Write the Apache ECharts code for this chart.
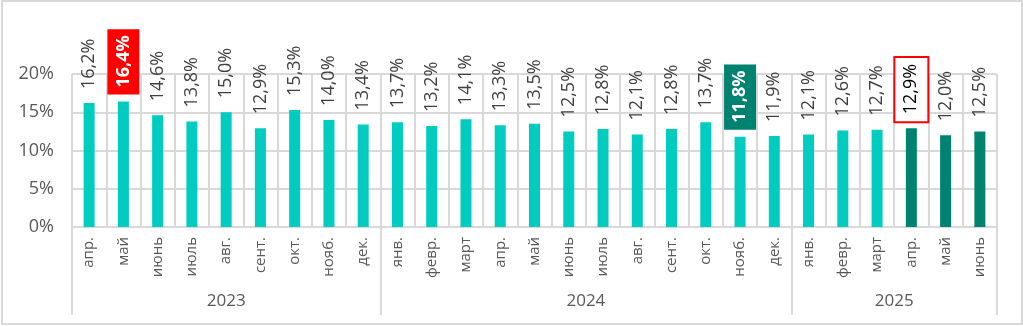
<!DOCTYPE html>
<html>
<head>
<meta charset="utf-8">
<script src="https://cdn.jsdelivr.net/npm/echarts@6/dist/echarts.min.js"></script>
<style>
  html, body { margin: 0; padding: 0; background: #fff; }
  #frame { position: absolute; left: 1px; top: 0; width: 1018px; height: 321px; border: 2px solid #d9d9d9; box-sizing: content-box; }
  #chart { position: absolute; left: 0; top: 0; width: 1023px; height: 326px; }
</style>
</head>
<body>
<div id="frame"></div>
<div id="chart"></div>
<script>
// Monthly rate, April 2023 – June 2025
const months = [
  'апр.', 'май', 'июнь', 'июль', 'авг.', 'сент.', 'окт.', 'нояб.', 'дек.',
  'янв.', 'февр.', 'март', 'апр.', 'май', 'июнь', 'июль', 'авг.', 'сент.', 'окт.', 'нояб.', 'дек.',
  'янв.', 'февр.', 'март', 'апр.', 'май', 'июнь'
];
const values = [
  16.2, 16.4, 14.6, 13.8, 15.0, 12.9, 15.3, 14.0, 13.4,
  13.7, 13.2, 14.1, 13.3, 13.5, 12.5, 12.8, 12.1, 12.8, 13.7, 11.8, 11.9,
  12.1, 12.6, 12.7, 12.9, 12.0, 12.5
];
const years = ['2023', '2024', '2025'];
const yearSizes = [9, 12, 6];
const yTicks = [0, 5, 10, 15, 20];

// Highlighted labels: maximum, minimum, latest framed month
const maxIdx = 1;
const minIdx = 19;
const framedIdx = 24;
const darkFrom = 24;

const TEAL = '#00CCBF';
const DARK = '#008270';
const FONT = '"Open Sans", sans-serif';

const fmt = v => v.toFixed(1).replace('.', ',') + '%';

// Year group boundaries and centres on a 0..N scale
const bounds = [0];
yearSizes.forEach(n => bounds.push(bounds[bounds.length - 1] + n));
const centres = years.map((_, i) => (bounds[i] + bounds[i + 1]) / 2);

const boxBase = { padding: [6, 6, 6, 7], lineHeight: 20, distance: 7 };

const data = values.map((v, i) => {
  const item = { value: v, itemStyle: { color: i >= darkFrom ? DARK : TEAL } };
  if (i === maxIdx) {
    item.label = Object.assign({}, boxBase, { backgroundColor: '#FF0000', color: '#fff', fontWeight: 'bold' });
  } else if (i === minIdx) {
    item.label = Object.assign({}, boxBase, { backgroundColor: DARK, color: '#fff', fontWeight: 'bold' });
  } else if (i === framedIdx) {
    item.label = Object.assign({}, boxBase, { backgroundColor: '#fff', borderColor: '#FF0000', borderWidth: 2, color: '#000' });
  }
  return item;
});

const chart = echarts.init(document.getElementById('chart'));
chart.setOption({
  animation: false,
  textStyle: { fontFamily: FONT },
  grid: { left: 72, right: 26, top: 74, bottom: 99 },
  xAxis: [
    {
      type: 'category',
      data: months,
      axisLine: { show: true, lineStyle: { color: '#d9d9d9', width: 2 } },
      axisTick: { show: false },
      splitLine: { show: true, lineStyle: { color: '#d9d9d9', width: 2 } },
      axisLabel: { rotate: 90, interval: 0, margin: 10, color: '#595959', fontSize: 15, fontFamily: FONT }
    },
    {
      type: 'value',
      position: 'bottom',
      min: 0,
      max: bounds[bounds.length - 1],
      axisLine: { show: false },
      splitLine: { show: false },
      axisTick: { show: true, customValues: bounds, length: 88, lineStyle: { color: '#d9d9d9', width: 2 } },
      axisLabel: {
        customValues: centres,
        margin: 66,
        color: '#595959',
        fontSize: 17,
        fontFamily: FONT,
        formatter: v => years[centres.indexOf(v)] || ''
      }
    }
  ],
  yAxis: {
    type: 'value',
    min: yTicks[0],
    max: yTicks[yTicks.length - 1],
    interval: yTicks[1] - yTicks[0],
    axisLine: { show: false },
    axisTick: { show: false },
    splitLine: { lineStyle: { color: '#d9d9d9', width: 2 } },
    axisLabel: { formatter: v => v + '%', color: '#595959', fontSize: 18, margin: 18, fontFamily: FONT }
  },
  series: [{
    type: 'bar',
    data: data,
    barWidth: 11,
    label: {
      show: true,
      position: 'top',
      distance: 14,
      rotate: 90,
      align: 'left',
      verticalAlign: 'middle',
      color: '#404040',
      fontSize: 18,
      fontFamily: FONT,
      formatter: p => fmt(p.value)
    }
  }]
});
</script>
</body>
</html>
